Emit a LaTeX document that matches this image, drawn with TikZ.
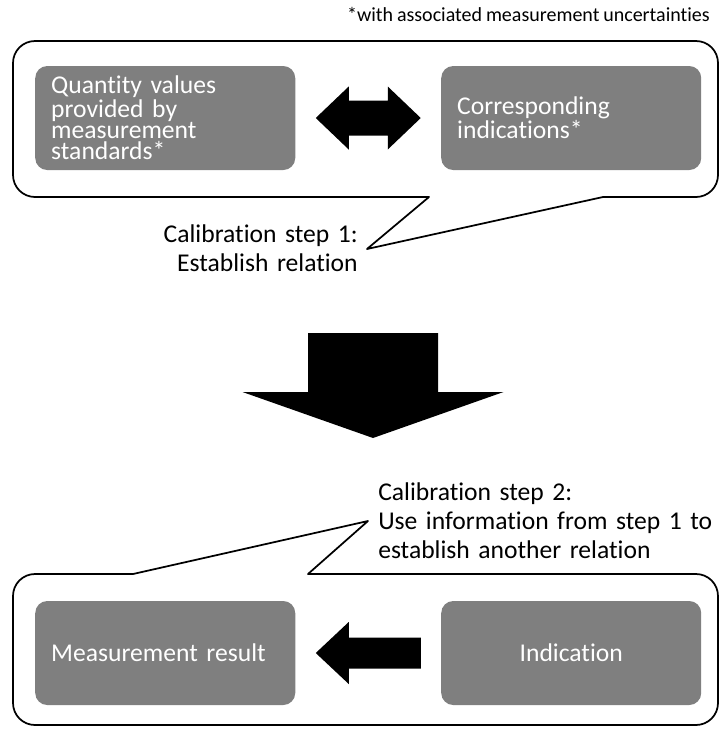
\documentclass[tikz,border=0pt]{standalone}
\usepackage{fontspec}
\setmainfont{Carlito}[Ligatures=CommonOff, WordSpace=0.85]
\usetikzlibrary{matrix,calc}
\definecolor{boxgray}{HTML}{7F7F7F}

\begin{document}
\begin{tikzpicture}[x=0.75pt, y=-0.75pt,
box/.style={fill=boxgray, text=white, rounded corners=9pt, inner xsep=12pt, inner ysep=2pt,
    text width=171pt, align=left, minimum height=78pt, anchor=center,
    font=\fontsize{19.2pt}{16pt}\selectfont},
bubble/.style={draw, line width=1.3pt, line join=round},
note/.style={inner sep=0pt, font=\fontsize{19.2pt}{21.75pt}\selectfont}
]
\useasboundingbox (0,0) rectangle (719,729);

\matrix (d) [matrix of nodes, nodes={box}, column sep=109.5pt, row sep=323.25pt,
    ampersand replacement=\&] at (368.25,385.5) {
{Quantity values\\provided by\\measurement\\standards*} \& {Corresponding\\indications*}\\
{Measurement result} \& |[align=center]| {Indication}\\
};

% callouts
\draw[bubble] (429,197) -- (367,249) -- (603,197) -- (696,197) arc (90:0:22) -- (718,63)
    arc (0:-90:22) -- (35,41) arc (-90:-180:22) -- (13,175) arc (180:90:22) -- cycle;
\draw[bubble] (133,574) -- (368,521) -- (308,574) -- (696,574) arc (-90:0:22) -- (718,703)
    arc (0:90:22) -- (35,725) arc (90:180:22) -- (13,596) arc (180:270:22) -- cycle;

\node[note, text width=150pt, align=right, anchor=base east] (cal1) at (358,242)
    {Calibration step 1:\\Establish relation};
\node[note, text width=255pt, align=left, anchor=base west] (cal2) at (378,500)
    {Calibration step 2:\\Use information from step 1 to\\establish another relation};
\node[inner sep=0pt, anchor=base east, font=\fontsize{15pt}{18pt}\selectfont] (fn)
    at (710,21) {*with associated measurement uncertainties};

% block arrows
\coordinate (rel) at ($(d-1-1)!.5!(d-1-2)$);
\coordinate (step) at (373,385.5);
\coordinate (use) at ($(d-2-2)!.5!(d-2-1)$);
\fill[shift={(rel)}] (-52.5,0) -- (-19.5,-31.5) -- (-19.5,-17.5) -- (19.5,-17.5) -- (19.5,-31.5)
    -- (52.5,0) -- (19.5,31.5) -- (19.5,17.5) -- (-19.5,17.5) -- (-19.5,31.5) -- cycle;
\fill[shift={(step)}] (-65,-52.5) -- (65,-52.5) -- (65,6.5) -- (130.5,6.5) -- (0,52.5)
    -- (-130.5,6.5) -- (-65,6.5) -- cycle;
\fill[shift={(use)}] (-52.5,0) -- (-19.5,-31) -- (-19.5,-15.5) -- (52.5,-15.5) -- (52.5,15.5)
    -- (-19.5,15.5) -- (-19.5,31) -- cycle;
\end{tikzpicture}
\end{document}
